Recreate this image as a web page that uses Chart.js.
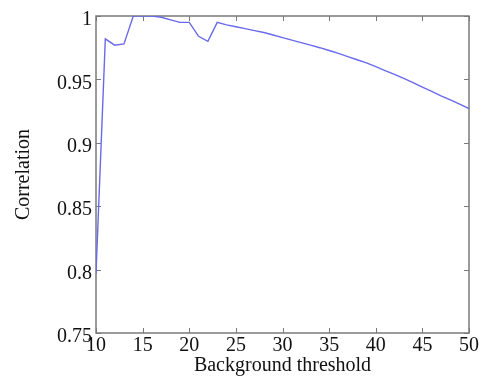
<!DOCTYPE html>
<html>
<head>
<meta charset="utf-8">
<script src="https://cdn.jsdelivr.net/npm/chart.js@4/dist/chart.umd.min.js"></script>
<style>
  html, body { margin: 0; padding: 0; background: #fff; }
  #wrap { width: 480px; height: 380px; position: relative; }
</style>
</head>
<body>
<div id="wrap"><canvas id="c"></canvas></div>
<script>
"use strict";

// values
const thresholds = [10, 11, 12, 13, 14, 15, 16, 17, 18, 19, 20, 21, 22, 23, 24, 25, 26, 27, 28, 29,
                    30, 31, 32, 33, 34, 35, 36, 37, 38, 39, 40, 41, 42, 43, 44, 45, 46, 47, 48, 49, 50];
const correlation = [0.797, 0.982, 0.977, 0.978, 1.0, 1.0, 1.0, 0.999, 0.997, 0.995, 0.995, 0.984, 0.980,
                     0.995, 0.993, 0.9915, 0.990, 0.9885, 0.987, 0.985, 0.983, 0.981, 0.979, 0.977, 0.975,
                     0.9728, 0.9705, 0.968, 0.9655, 0.963, 0.960, 0.957, 0.954, 0.9508, 0.9475, 0.944, 0.9405,
                     0.937, 0.9338, 0.9305, 0.927];
const xTicks = [10, 15, 20, 25, 30, 35, 40, 45, 50];
const yTicks = [0.75, 0.8, 0.85, 0.9, 0.95, 1];

const axisColor = "#7a7a7a";
const serif = "'Liberation Serif', 'DejaVu Serif', serif";

// MATLAB-like box with inward ticks on every side
const boxPlugin = {
    id: "box",
    beforeDatasetsDraw(chart) {
        const {ctx, chartArea: a, scales} = chart;
        const len = 5;
        ctx.save();
        ctx.strokeStyle = axisColor;
        ctx.lineWidth = 1;
        ctx.beginPath();
        xTicks.forEach(v => {
            const px = Math.round(scales.x.getPixelForValue(v)) + 0.5;
            ctx.moveTo(px, a.bottom); ctx.lineTo(px, a.bottom - len);
            ctx.moveTo(px, a.top); ctx.lineTo(px, a.top + len);
        });
        yTicks.forEach(v => {
            const py = Math.round(scales.y.getPixelForValue(v)) + 0.5;
            ctx.moveTo(a.left, py); ctx.lineTo(a.left + len, py);
            ctx.moveTo(a.right, py); ctx.lineTo(a.right - len, py);
        });
        ctx.stroke();
        ctx.lineWidth = 1.5;
        ctx.strokeRect(a.left, a.top, a.right - a.left, a.bottom - a.top);
        ctx.restore();
    }
};

new Chart(document.getElementById("c"), {
    type: "line",
    data: {
        datasets: [{
            data: thresholds.map((t, i) => ({x: t, y: correlation[i]})),
            borderColor: "rgb(105,105,235)",
            borderWidth: 1.4,
            pointRadius: 0,
            tension: 0,
            fill: false
        }]
    },
    options: {
        responsive: true,
        maintainAspectRatio: false,
        animation: false,
        layout: { padding: {left: 0, right: 11, top: 13, bottom: 0} },
        plugins: {
            legend: { display: false },
            tooltip: { enabled: false }
        },
        scales: {
            x: {
                type: "linear",
                min: 10,
                max: 50,
                afterBuildTicks: s => { s.ticks = xTicks.map(v => ({value: v})); },
                afterFit: s => { s.height = 47; },
                grid: { display: false, drawTicks: false },
                border: { display: false },
                ticks: {
                    color: "#111",
                    font: { family: serif, size: 20 },
                    padding: 1,
                    maxRotation: 0,
                    autoSkip: false
                },
                title: {
                    display: true,
                    text: "Background threshold",
                    color: "#111",
                    font: { family: serif, size: 20 },
                    padding: {top: 0, bottom: 2}
                }
            },
            y: {
                min: 0.75,
                max: 1,
                afterBuildTicks: s => { s.ticks = yTicks.map(v => ({value: v})); },
                afterFit: s => { s.width = 96; },
                grid: { display: false, drawTicks: false },
                border: { display: false },
                ticks: {
                    color: "#111",
                    font: { family: serif, size: 20 },
                    padding: 4,
                    labelOffset: 4,
                    callback: v => String(+v.toFixed(2))
                },
                title: {
                    display: true,
                    text: "Correlation",
                    color: "#111",
                    font: { family: serif, size: 20 },
                    padding: {top: 12, bottom: 0}
                }
            }
        }
    },
    plugins: [boxPlugin]
});
</script>
</body>
</html>
